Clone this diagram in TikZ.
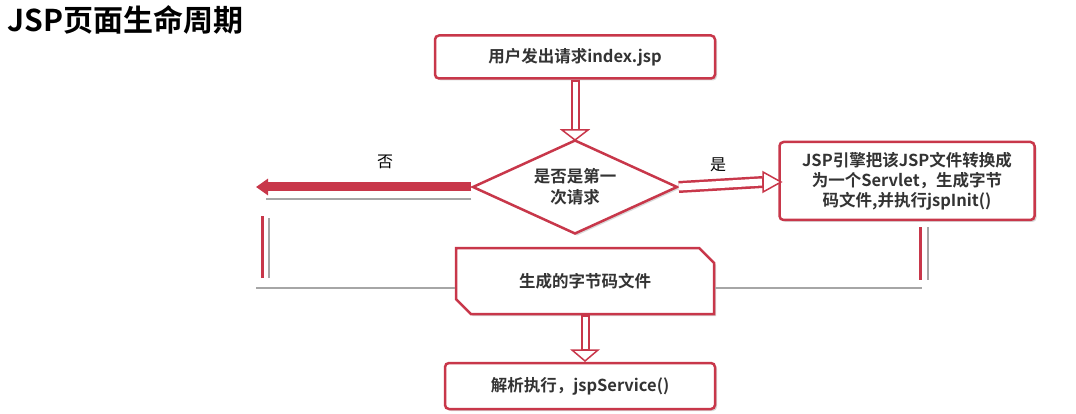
\documentclass[tikz,border=0pt]{standalone}
\usepackage{fontspec}
\setmainfont{Noto Sans CJK SC}[BoldFont={Noto Sans CJK SC Bold}]
\usetikzlibrary{shapes.geometric,shapes.misc,arrows.meta,shadows}
\definecolor{rd}{HTML}{C8374A}
\definecolor{tx}{HTML}{333333}
\begin{document}
\begin{tikzpicture}[x=1pt,y=-1pt,
  box/.style={draw=rd,line width=2.5pt,rounded corners=4pt,fill=white,font=\bfseries\fontsize{16.5}{20}\selectfont,text=tx,align=center,inner sep=1pt,drop shadow={opacity=0.3,shadow xshift=2pt,shadow yshift=-2pt}},
  gray/.style={draw=gray!70,line width=1.2pt},
  lbl/.style={font=\fontsize{16}{19}\selectfont,text=black}]
\useasboundingbox (0,0) rectangle (1076,414);
\node[anchor=north west,font=\bfseries\fontsize{30}{33}\selectfont] (title) at (4,2) {JSP页面生命周期};
\node[box,minimum width=280pt,minimum height=43pt] (b1) at (575,57) {用户发出请求index.jsp};
\node[draw=rd,line width=2.5pt,diamond,aspect=2.2,fill=white,minimum width=205pt,minimum height=94pt,inner sep=0pt,align=center,font=\bfseries\fontsize{16.5}{21}\selectfont,text=tx,drop shadow={opacity=0.3,shadow xshift=2pt,shadow yshift=-2pt}] (d) at (575,187) {是否是第一\\次请求};
\node[box,minimum width=255pt,minimum height=78pt] (b2) at (907,181) {JSP引擎把该JSP文件转换成\\为一个Servlet，生成字节\\码文件,并执行jspInit()};
\node[box,rounded corners=0pt,minimum width=258pt,minimum height=66pt,chamfered rectangle,chamfered rectangle corners={north east,south west},chamfered rectangle xsep=12pt,chamfered rectangle ysep=6pt] (b3) at (585,281) {生成的字节码文件};
\node[box,minimum width=270pt,minimum height=46pt] (b4) at (580,386) {解析执行，jspService()};
% down arrows (hollow)
\draw[rd,line width=9pt] (b1.south) -- ++(0,52);
\draw[white,line width=5pt] (b1.south) ++(0,2) -- ++(0,48);
\draw[rd,fill=white,line width=1.5pt] (562,130) -- (588,130) -- (575,140) -- cycle;
\draw[rd,line width=9pt] (b3.south) -- ++(0,36);
\draw[white,line width=5pt] (b3.south) ++(0,2) -- ++(0,32);
\draw[rd,fill=white,line width=1.5pt] (572,350) -- (598,350) -- (585,361) -- cycle;
% no branch
\coordinate (nl) at (256,187);
\draw[gray] (d.west) ++(0,12) -- (266,199);
\draw[rd,line width=9pt,-{Triangle[length=12pt,width=16pt]}] (d.west) -- (nl);
\node[lbl] (no) at (385,162) {否};
% yes branch
\draw[rd,line width=12pt] (d.east) -- (763,182);
\draw[white,line width=7pt] (d.east) -- (762,182);
\draw[rd,fill=white,line width=1.5pt] (763,172) -- (781,182) -- (763,192) -- cycle;
\node[lbl] (yes) at (718,165) {是};
% loop back
\coordinate (lb) at (256,288);
\coordinate (lt) at (262,216);
\coordinate (rb) at (922,288);
\draw[gray] (b3.west) ++(0,7) -- (lb);
\draw[gray] (b3.east) ++(0,7) -- (rb);
\draw[rd,line width=3pt] (262,278) -- (lt);
\draw[gray] (269,278) -- (269,218);
\draw[rd,line width=3pt] (b2.south) ++(13,6) -- (920,280);
\draw[gray] (b2.south) ++(21,6) -- (928,280);
\end{tikzpicture}
\end{document}
